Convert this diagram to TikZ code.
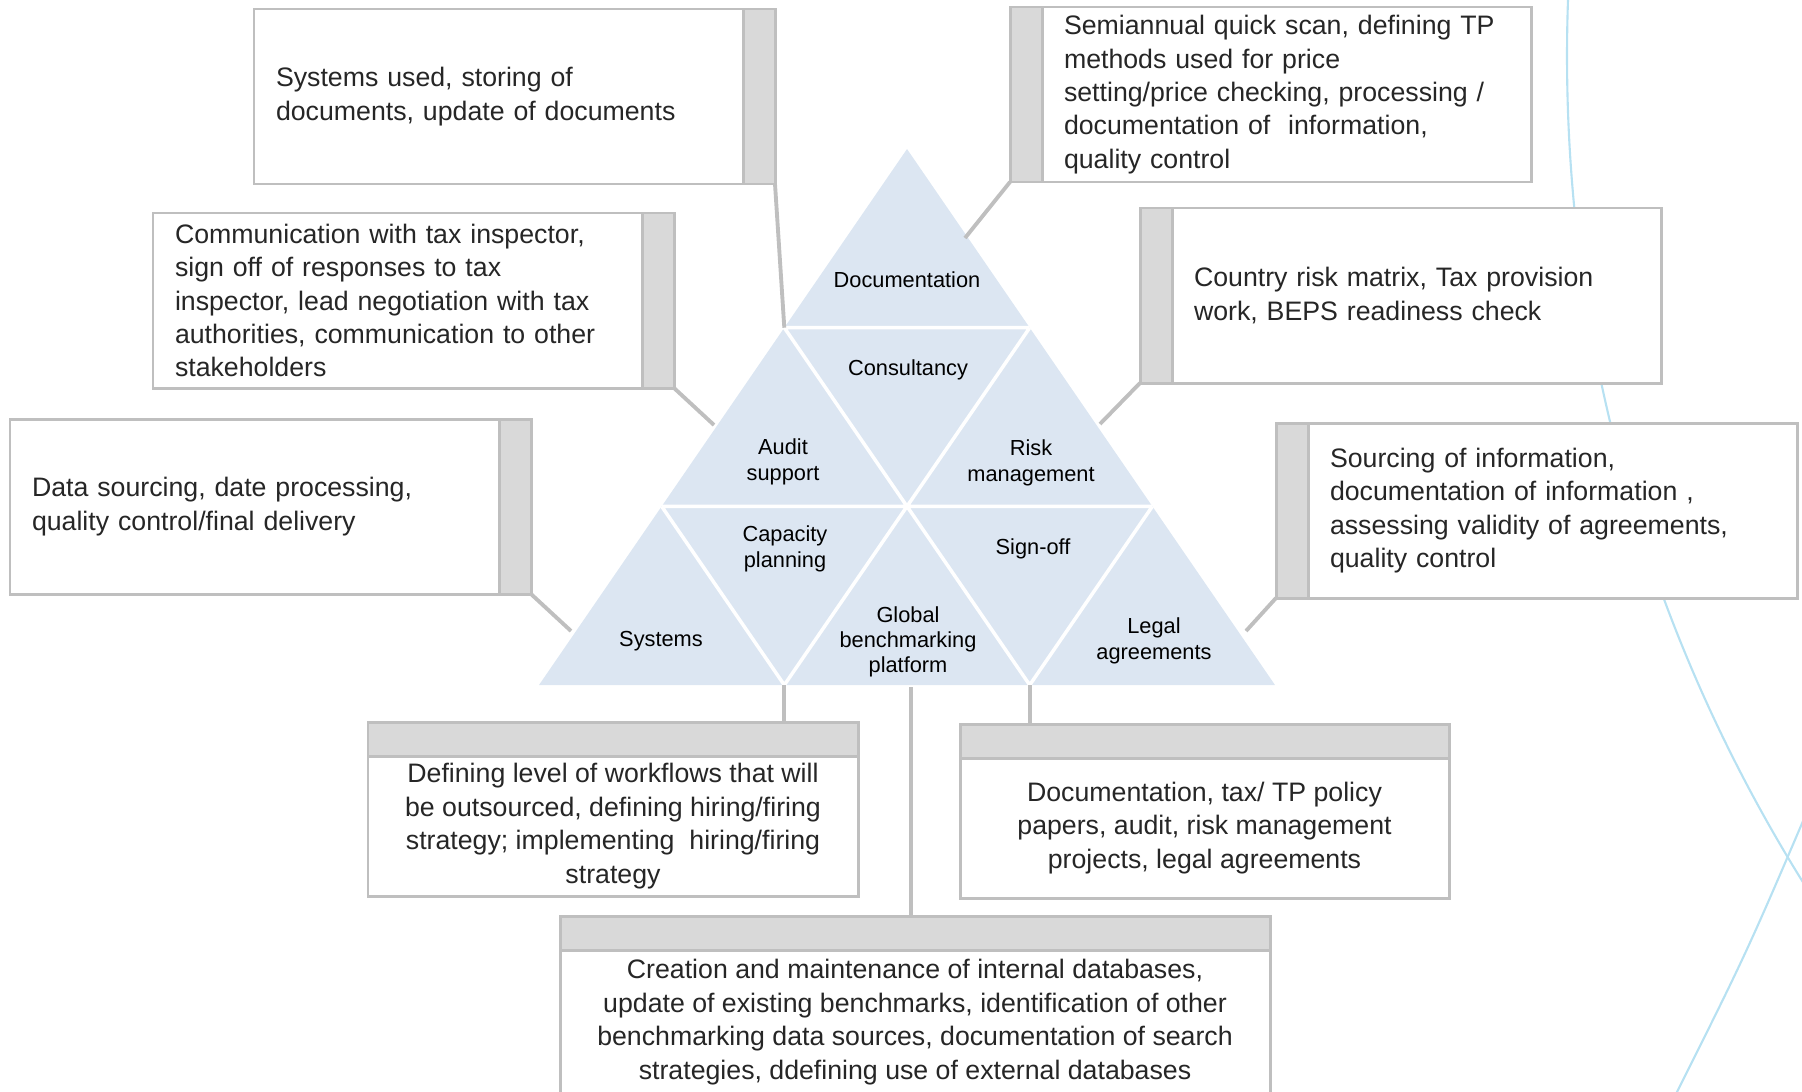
\documentclass[tikz,border=0pt]{standalone}
\usepackage{fontspec}
\setmainfont{Liberation Sans}
\usetikzlibrary{positioning,calc}

\definecolor{pyrblue}{RGB}{220,230,242}
\definecolor{boxgray}{RGB}{191,191,191}
\definecolor{bargray}{RGB}{217,217,217}
\definecolor{arcblue}{RGB}{183,225,242}
\definecolor{txtgray}{RGB}{38,38,38}

\tikzset{
  descbox/.style={draw=boxgray, line width=0.85pt, fill=white, outer sep=0pt,
    inner xsep=0.22cm, inner ysep=0.04cm, text width=4.45cm, minimum height=1.75cm,
    align=left, text=txtgray, font=\fontsize{7.6}{9.5}\selectfont},
  tabbar/.style={draw=boxgray, line width=0.85pt, fill=bargray, outer sep=0pt,
    inner sep=0pt, minimum width=0.32cm, minimum height=1.75cm},
  bodybox/.style={draw=boxgray, line width=0.85pt, fill=white, outer sep=0pt,
    inner sep=0.04cm, minimum height=1.40cm, align=center,
    text=txtgray, font=\fontsize{7.6}{9.5}\selectfont},
  headbar/.style={draw=boxgray, line width=0.85pt, fill=bargray, outer sep=0pt,
    inner sep=0pt, minimum height=0.34cm},
  leader/.style={draw=boxgray, line width=1.1pt},
  seglabel/.style={align=center, font=\fontsize{6.2}{7.2}\selectfont},
  arcline/.style={draw=arcblue, line width=0.6pt}
}

\begin{document}
\begin{tikzpicture}
\useasboundingbox (0,0) rectangle (18.02,-10.91);
\clip (0,0) rectangle (18.02,-10.91);
%
\draw[arcline] (31.30,-0.56) circle [radius=15.63cm];
\draw[arcline] (18.12,-8.00) .. controls (17.47,-9.52) .. (16.73,-11.00);
%
\coordinate (t) at (9.07,-1.49);
\coordinate (l1) at (7.843,-3.277);
\coordinate (r1) at (10.297,-3.277);
\coordinate (l2) at (6.617,-5.064);
\coordinate (m2) at (9.07,-5.064);
\coordinate (r2) at (11.523,-5.064);
\coordinate (l3) at (5.39,-6.85);
\coordinate (a3) at (7.843,-6.85);
\coordinate (b3) at (10.297,-6.85);
\coordinate (r3) at (12.75,-6.85);
%
\fill[pyrblue] (t) -- (l3) -- (r3) -- cycle;
\draw[white, line width=1pt] (l1) -- (r1) (l2) -- (r2) (l1) -- (b3) (r1) -- (a3)
  (l2) -- (a3) (r2) -- (b3);
%
\node[seglabel] (sdoc) at (9.07,-2.80) {Documentation};
\node[seglabel] (scons) at (9.08,-3.70) {Consultancy};
\node[seglabel] (saud) at (7.83,-4.62) {Audit\\ support};
\node[seglabel] (srisk) at (10.31,-4.63) {Risk\\ management};
\node[seglabel] (scap) at (7.85,-5.49) {Capacity\\ planning};
\node[seglabel] (ssign) at (10.33,-5.49) {Sign-off};
\node[seglabel] (ssys) at (6.61,-6.41) {Systems};
\node[seglabel] (sbmk) at (9.08,-6.42) {Global\\ benchmarking\\ platform};
\node[seglabel] (sleg) at (11.54,-6.41) {Legal\\ agreements};
%
\coordinate (audpt) at (7.14,-4.25);
\coordinate (syspt) at (5.71,-6.31);
\coordinate (docpt) at (9.65,-2.38);
\coordinate (riskpt) at (11.00,-4.24);
\coordinate (legpt) at (12.46,-6.31);
\coordinate (bmkpt) at (9.11,-6.87);
%
% left column
\node[descbox, anchor=north west] (sysdoc) at (2.54,-0.09)
  {Systems used, storing of\\ documents, update of documents};
\node[tabbar, right=0pt of sysdoc] (sysdocbar) {};
\draw[leader] (sysdocbar.south east) -- (l1);
%
\node[descbox, anchor=north west] (audcom) at (1.53,-2.13)
  {Communication with tax inspector,\\ sign off of responses to tax\\ inspector, lead negotiation with tax\\ authorities, communication to other\\ stakeholders};
\node[tabbar, right=0pt of audcom] (audcombar) {};
\draw[leader] (audcombar.south east) -- (audpt);
%
\node[descbox, anchor=north west] (sysdata) at (0.10,-4.19)
  {Data sourcing, date processing,\\ quality control/final delivery};
\node[tabbar, right=0pt of sysdata] (sysdatabar) {};
\draw[leader] (sysdatabar.south east) -- (syspt);
%
% right column
\node[descbox, anchor=north west] (docscan) at (10.42,-0.07)
  {Semiannual quick scan, defining TP\\ methods used for price\\ setting/price checking, processing /\\ documentation of \ information,\\ quality control};
\node[tabbar, left=0pt of docscan] (docscanbar) {};
\draw[leader] (docscanbar.south west) -- (docpt);
%
\node[descbox, anchor=north west] (riskmat) at (11.72,-2.08)
  {Country risk matrix, Tax provision\\ work, BEPS readiness check};
\node[tabbar, left=0pt of riskmat] (riskmatbar) {};
\draw[leader] (riskmatbar.south west) -- (riskpt);
%
\node[descbox, anchor=north west] (legsrc) at (13.08,-4.23)
  {Sourcing of information,\\ documentation of information ,\\ assessing validity of agreements,\\ quality control};
\node[tabbar, left=0pt of legsrc] (legsrcbar) {};
\draw[leader] (legsrcbar.south west) -- (legpt);
%
% bottom row
\node[bodybox, minimum width=4.90cm, anchor=north west] (capbody) at (3.68,-7.56)
  {Defining level of workflows that will\\ be outsourced, defining hiring/firing\\ strategy; implementing \ hiring/firing\\ strategy};
\node[headbar, minimum width=4.90cm, above=0pt of capbody] (caphead) {};
\draw[leader] (a3) -- (a3 |- caphead.north);
%
\node[bodybox, minimum width=4.89cm, anchor=north west] (signbody) at (9.60,-7.58)
  {Documentation, tax/ TP policy\\ papers, audit, risk management\\ projects, legal agreements};
\node[headbar, minimum width=4.89cm, above=0pt of signbody] (signhead) {};
\draw[leader] (b3) -- (b3 |- signhead.north);
%
\node[bodybox, minimum width=7.10cm, minimum height=1.44cm, anchor=north west] (bmkbody) at (5.60,-9.50)
  {Creation and maintenance of internal databases,\\ update of existing benchmarks, identification of other\\ benchmarking data sources, documentation of search\\ strategies, ddefining use of external databases};
\node[headbar, minimum width=7.10cm, above=0pt of bmkbody] (bmkhead) {};
\draw[leader] (bmkpt) -- (bmkpt |- bmkhead.north);
\end{tikzpicture}
\end{document}
